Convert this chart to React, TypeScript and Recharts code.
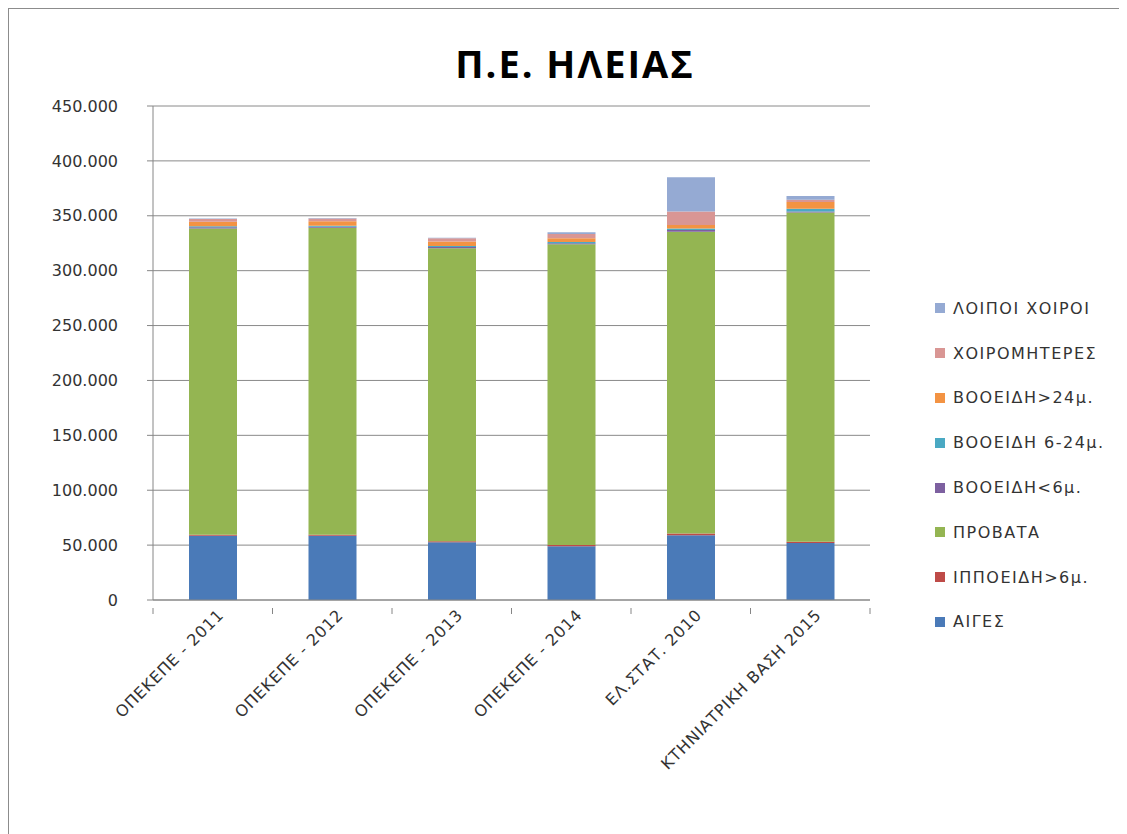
import React from "react";
import { BarChart, Bar, XAxis, YAxis, CartesianGrid } from "recharts";

const categories = [
  "ΟΠΕΚΕΠΕ - 2011",
  "ΟΠΕΚΕΠΕ - 2012",
  "ΟΠΕΚΕΠΕ - 2013",
  "ΟΠΕΚΕΠΕ - 2014",
  "ΕΛ.ΣΤΑΤ. 2010",
  "ΚΤΗΝΙΑΤΡΙΚΗ ΒΑΣΗ 2015",
];

const aiges = [58500, 58500, 52500, 49000, 59000, 52000];
const ippoeidi = [1000, 1000, 1000, 1000, 1500, 1000];
const provata = [279000, 279500, 267000, 274000, 275000, 300000];
const vooeidiUnder6 = [1000, 1000, 1000, 1000, 1500, 1000];
const vooeidi6to24 = [1000, 1000, 1000, 1000, 1500, 2500];
const vooeidiOver24 = [4000, 4000, 4000, 3500, 3000, 6000];
const choiromiteres = [2500, 2500, 3000, 4000, 12500, 2000];
const loipoiChoiroi = [500, 500, 500, 1500, 31000, 3500];

const yTicks = [0, 50000, 100000, 150000, 200000, 250000, 300000, 350000, 400000, 450000];

// bottom to top stacking order
const series = [
  { key: "aiges", name: "ΑΙΓΕΣ", color: "#4a7ab8", values: aiges },
  { key: "ippoeidi", name: "ΙΠΠΟΕΙΔΗ>6μ.", color: "#be4b48", values: ippoeidi },
  { key: "provata", name: "ΠΡΟΒΑΤΑ", color: "#94b552", values: provata },
  { key: "voo6", name: "ΒΟΟΕΙΔΗ<6μ.", color: "#7d60a0", values: vooeidiUnder6 },
  { key: "voo624", name: "ΒΟΟΕΙΔΗ 6-24μ.", color: "#4aa9c3", values: vooeidi6to24 },
  { key: "voo24", name: "ΒΟΟΕΙΔΗ>24μ.", color: "#f39343", values: vooeidiOver24 },
  { key: "choiromit", name: "ΧΟΙΡΟΜΗΤΕΡΕΣ", color: "#d99694", values: choiromiteres },
  { key: "loipoi", name: "ΛΟΙΠΟΙ ΧΟΙΡΟΙ", color: "#95aad3", values: loipoiChoiroi },
];

const data = categories.map((name, i) => {
  const row: any = { name };
  series.forEach((s) => {
    row[s.key] = s.values[i];
  });
  return row;
});

const fmt = (v: number) => String(v).replace(/\B(?=(\d{3})+(?!\d))/g, ".");

const FONT = "'DejaVu Sans', sans-serif";
const CHART_W = 1111;
const CHART_H = 826;
const M = { top: 97, right: 250, bottom: 0, left: 0 };
const Y_W = 144;
const BAND = (CHART_W - M.right - Y_W) / categories.length;

const XTick = (props: any) => {
  const { x, y, payload, index } = props;
  return (
    <g>
      <line x1={x - BAND / 2} y1={y} x2={x - BAND / 2} y2={y + 6} stroke="#868686" />
      {index === categories.length - 1 && (
        <line x1={x + BAND / 2} y1={y} x2={x + BAND / 2} y2={y + 6} stroke="#868686" />
      )}
      <text
        x={0}
        y={0}
        transform={`translate(${x + 12},${y + 8}) rotate(-45)`}
        textAnchor="end"
        fontSize={16}
        letterSpacing={0.8}
        fontFamily={FONT}
        fill="#333"
      >
        {payload.value}
      </text>
    </g>
  );
};

export default function App() {
  const legendItems = [...series].reverse();
  return (
    <div
      style={{
        position: "relative",
        width: CHART_W,
        height: 832,
        border: "1px solid #8c8c8c",
        background: "#fff",
        fontFamily: FONT,
      }}
    >
      <div
        style={{
          position: "absolute",
          left: 0,
          width: 1132,
          top: 28,
          textAlign: "center",
          fontSize: 38,
          letterSpacing: 2,
          fontWeight: "bold",
          color: "#000",
          fontFamily: "'Open Sans', sans-serif",
        }}
      >
        Π.Ε. ΗΛΕΙΑΣ
      </div>
      <BarChart width={CHART_W} height={CHART_H} data={data} margin={M}>
        <CartesianGrid vertical={false} stroke="#8a8a8a" />
        <XAxis
          dataKey="name"
          height={235}
          interval={0}
          tickLine={false}
          axisLine={{ stroke: "#868686" }}
          tick={<XTick />}
        />
        <YAxis
          width={Y_W}
          domain={[0, 450000]}
          ticks={yTicks}
          tickFormatter={fmt}
          tickSize={6}
          tickMargin={29}
          axisLine={{ stroke: "#868686" }}
          tickLine={{ stroke: "#868686" }}
          tick={{ fontSize: 16, fill: "#333", fontFamily: FONT }}
        />
        {series.map((s) => (
          <Bar
            key={s.key}
            dataKey={s.key}
            name={s.name}
            stackId="a"
            fill={s.color}
            barSize={48}
            isAnimationActive={false}
          />
        ))}
      </BarChart>
      <div style={{ position: "absolute", left: 926, top: 277 }}>
        {legendItems.map((s) => (
          <div
            key={s.key}
            style={{
              display: "flex",
              alignItems: "center",
              height: 44.8,
              fontSize: 16,
              letterSpacing: 1.5,
              color: "#333",
            }}
          >
            <span
              style={{ width: 10, height: 10, background: s.color, display: "inline-block", marginRight: 8 }}
            />
            {s.name}
          </div>
        ))}
      </div>
    </div>
  );
}
